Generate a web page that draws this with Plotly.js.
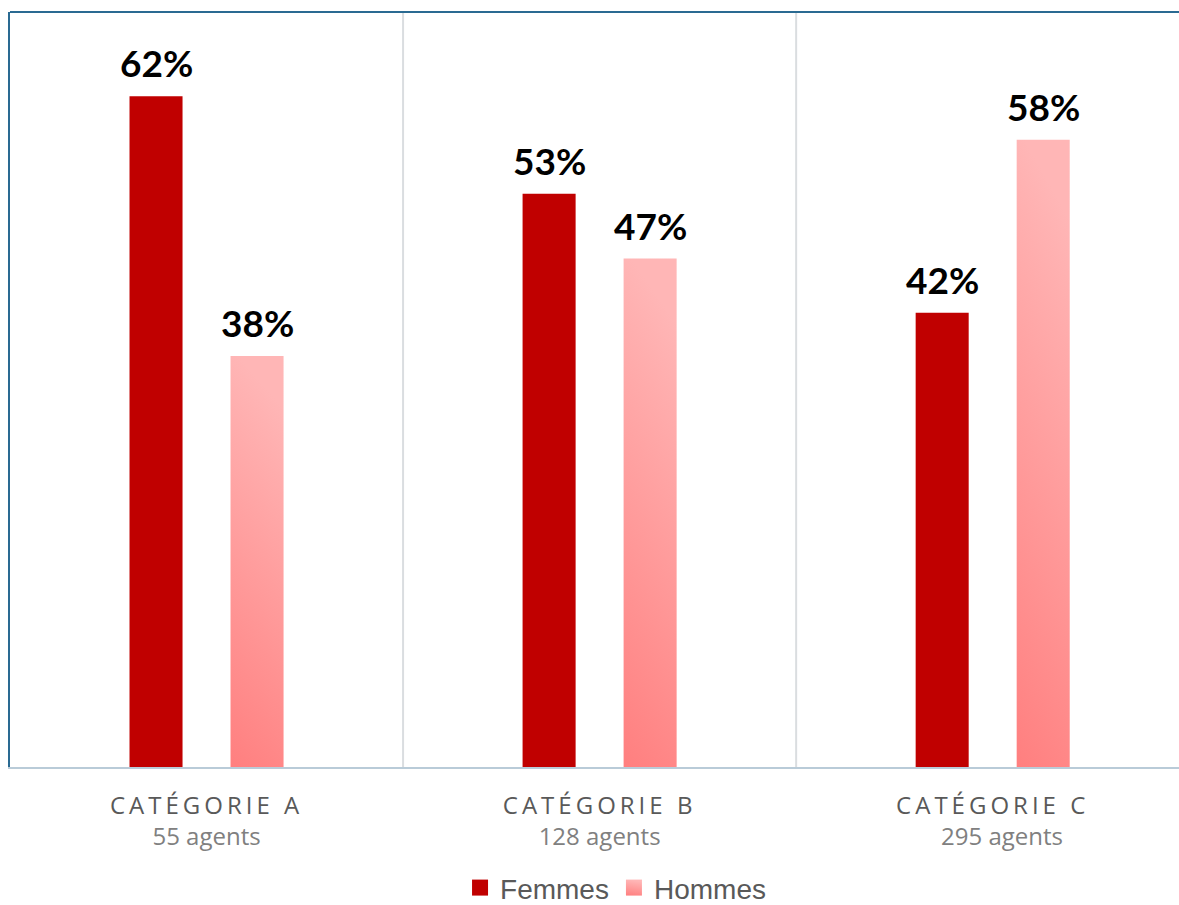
<!DOCTYPE html>
<html>
<head>
<meta charset="utf-8">
<script src="https://cdn.plot.ly/plotly-3.0.1.min.js"></script>
<style>
  html, body { margin: 0; padding: 0; background: #fff; }
  #chart { width: 1179px; height: 905px; }
  #defs { position: absolute; width: 0; height: 0; }
</style>
</head>
<body>
<svg id="defs" width="0" height="0">
  <defs>
    <linearGradient id="hommesGrad" x1="0.15" y1="0" x2="0" y2="1">
      <stop offset="0" stop-color="#FFB6B6"/>
      <stop offset="1" stop-color="#FF7F7F"/>
    </linearGradient>
  </defs>
</svg>
<div id="chart"></div>
<script>
// ---- Data ----
const categories = ["CATÉGORIE A", "CATÉGORIE B", "CATÉGORIE C"];
const agents = ["55 agents", "128 agents", "\u00A0\u00A0\u00A0295 agents"];
const femmes = [62, 53, 42];
const hommes = [38, 47, 58];
const seriesNames = ["Femmes", "Hommes"];

// ---- Style ----
const BARGAP = 0.486;
const GROUPGAP = 0.475;
const colF = "#C00000";
const colH = "#FF9999";

const tickText = categories.map((c, i) =>
  "<span style='letter-spacing:4px'>" + c + "</span><br>" +
  "<span style='color:#808080'>" + agents[i] + "</span>");

const traces = [
  { type: "bar", name: seriesNames[0], x: [0, 1, 2], y: femmes,
    marker: { color: colF }, hoverinfo: "skip" },
  { type: "bar", name: seriesNames[1], x: [0, 1, 2], y: hommes,
    marker: { color: colH }, hoverinfo: "skip" }
];

const half = (1 - BARGAP) / 4;
const annotations = [];
[femmes, hommes].forEach((vals, s) => {
  vals.forEach((v, i) => {
    annotations.push({
      x: i + (s === 0 ? -half : half), y: v, xref: "x", yref: "y",
      text: "<b>" + v + "%</b>", showarrow: false,
      yanchor: "bottom", yshift: 9,
      font: { family: "Lato, 'Open Sans', sans-serif", size: 37, color: "#000" }
    });
  });
});

const layout = {
  width: 1179, height: 905,
  margin: { l: 10, r: 0, t: 12, b: 138, autoexpand: false },
  paper_bgcolor: "#fff", plot_bgcolor: "#fff",
  barmode: "group", bargap: BARGAP, bargroupgap: GROUPGAP,
  xaxis: {
    type: "linear",
    range: [-0.5, 2.474],
    tickmode: "array", tickvals: [0, 1, 2], ticktext: tickText,
    showgrid: false, zeroline: false,
    showline: true, linecolor: "#B9CBD8", linewidth: 2,
    ticks: "", ticklabelstandoff: 16,
    tickfont: { family: "'Open Sans', sans-serif", size: 24, color: "#595959" },
    fixedrange: true
  },
  yaxis: {
    range: [0, 69.8], showticklabels: false, showgrid: false, zeroline: false,
    showline: true, linecolor: "#2A6A92", linewidth: 2, ticks: "", fixedrange: true
  },
  shapes: [
    { type: "line", xref: "paper", yref: "paper", x0: 0, x1: 1, y0: 1, y1: 1,
      line: { color: "#2A6A92", width: 2 } },
    ...[0.5, 1.5].map(b => ({ type: "line", xref: "x", yref: "paper", x0: b, x1: b, y0: 0, y1: 1,
      layer: "below", line: { color: "#DADDE0", width: 2 } }))
  ],
  annotations: annotations,
  showlegend: true,
  legend: {
    orientation: "h", x: 0.518, xanchor: "center", y: -0.127, yanchor: "top",
    font: { family: "'Liberation Sans', Arial, sans-serif", size: 28, color: "#595959" },
    itemsizing: "constant", itemwidth: 30, tracegroupgap: 0
  }
};

function applyGradient() {
  const gd = document.getElementById("chart");
  const traceGroups = gd.querySelectorAll(".barlayer .trace.bars");
  if (traceGroups[1]) {
    traceGroups[1].querySelectorAll("path").forEach(p => { p.style.fill = "url(#hommesGrad)"; });
  }
  const legendTraces = gd.querySelectorAll(".legend .traces");
  legendTraces.forEach((lt, i) => {
    const p = lt.querySelector(".legendpoints path");
    if (p) {
      p.setAttribute("d", "M8,8H-8V-8H8Z");
      if (i === 1) p.style.fill = "url(#hommesGrad)";
    }
  });
}

Plotly.newPlot("chart", traces, layout, { staticPlot: true, displayModeBar: false })
  .then(applyGradient);
</script>
</body>
</html>
